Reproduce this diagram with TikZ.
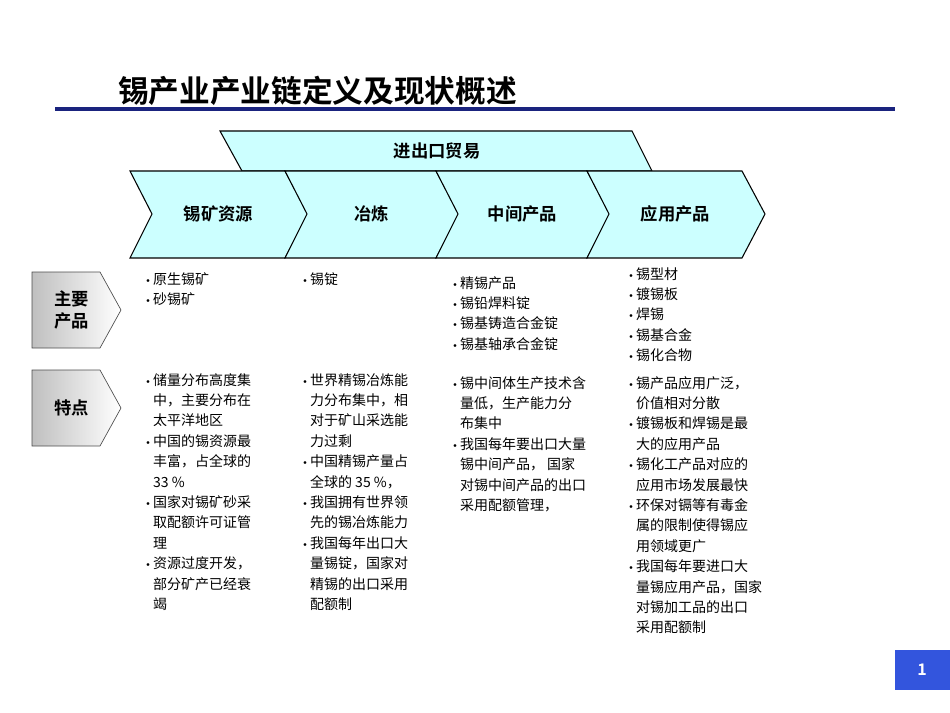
\documentclass[tikz,border=0pt]{standalone}
\usepackage{fontspec}
\setmainfont{Noto Sans CJK SC}
\newfontfamily\hfont{Noto Sans CJK SC Bold}
\newfontfamily\lat{DejaVu Sans}
\usetikzlibrary{shadings}
\definecolor{cy}{HTML}{CCFFFF}
\definecolor{navy}{HTML}{1A237E}
\definecolor{pgblue}{HTML}{3355DD}
\newcommand{\bu}{{\lat\fontsize{7pt}{7pt}\selectfont•}\,}
\newcommand{\hb}{\hphantom{\bu}}
\tikzset{chev/.style={draw=black,fill=cy,line width=0.8pt},
 gbox/.style={draw=black!70,left color=black!25,right color=white,line width=0.5pt},
 body/.style={anchor=north west,align=left,inner sep=0pt,font=\fontsize{10.5pt}{15.3pt}\selectfont},
 head/.style={font=\hfont\fontsize{13pt}{16pt}\selectfont}}
\begin{document}
\begin{tikzpicture}[x=0.75pt,y=-0.75pt]
\useasboundingbox (0,0) rectangle (950,713);
\node[anchor=base west,inner sep=0pt,font=\hfont\fontsize{23pt}{26pt}\selectfont] (title) at (118,103) {锡产业产业链定义及现状概述};
\draw[navy,line width=2.5pt] (55,109) coordinate (l1) -- (895,109) coordinate (l2);
% trade banner
\draw[chev] (220,131) -- (632,131) -- (652,171) -- (242,171) -- cycle;
\node[head] (trade) at (437,151) {进出口贸易};
% chevrons
\foreach \a/\b/\t/\n in {130/285/锡矿资源/c1,285/436/冶炼/c2,436/587/中间产品/c3,587/742/应用产品/c4}{
 \draw[chev] (\a,171) -- (\b,171) -- (\b+23,214) -- (\b,258) -- (\a,258) -- (\a+22,214) -- cycle;
 \node[head] (\n) at ({(\a+\b)/2+11},214) {\t};
}
% left boxes
\draw[gbox] (32,272) -- (100,272) -- (121,310) -- (100,348) -- (32,348) -- cycle;
\node[head,align=center] (zy) at (72,310) {主要\\产品};
\draw[gbox] (32,370) -- (100,370) -- (121,408) -- (100,446) -- (32,446) -- cycle;
\node[head] (td) at (72,408) {特点};
% products
\node[body] (p1) at (145,272) {\bu 原生锡矿\\\bu 砂锡矿};
\node[body] (p2) at (302,272) {\bu 锡锭};
\node[body] (p3) at (452,276) {\bu 精锡产品\\\bu 锡铅焊料锭\\\bu 锡基铸造合金锭\\\bu 锡基轴承合金锭};
\node[body] (p4) at (628,267) {\bu 锡型材\\\bu 镀锡板\\\bu 焊锡\\\bu 锡基合金\\\bu 锡化合物};
% features
\node[body] (f1) at (145,373) {\bu 储量分布高度集\\\hb 中，主要分布在\\\hb 太平洋地区\\\bu 中国的锡资源最\\\hb 丰富，占全球的\\\hb 33 \%\\\bu 国家对锡矿砂采\\\hb 取配额许可证管\\\hb 理\\\bu 资源过度开发，\\\hb 部分矿产已经衰\\\hb 竭};
\node[body] (f2) at (302,373) {\bu 世界精锡冶炼能\\\hb 力分布集中，相\\\hb 对于矿山采选能\\\hb 力过剩\\\bu 中国精锡产量占\\\hb 全球的 35 \%，\\\bu 我国拥有世界领\\\hb 先的锡冶炼能力\\\bu 我国每年出口大\\\hb 量锡锭，国家对\\\hb 精锡的出口采用\\\hb 配额制};
\node[body] (f3) at (452,376) {\bu 锡中间体生产技术含\\\hb 量低，生产能力分\\\hb 布集中\\\bu 我国每年要出口大量\\\hb 锡中间产品，\ 国家\\\hb 对锡中间产品的出口\\\hb 采用配额管理，};
\node[body] (f4) at (628,376) {\bu 锡产品应用广泛，\\\hb 价值相对分散\\\bu 镀锡板和焊锡是最\\\hb 大的应用产品\\\bu 锡化工产品对应的\\\hb 应用市场发展最快\\\bu 环保对镉等有毒金\\\hb 属的限制使得锡应\\\hb 用领域更广\\\bu 我国每年要进口大\\\hb 量锡应用产品，国家\\\hb 对锡加工品的出口\\\hb 采用配额制};
% page number
\fill[pgblue] (895,650) rectangle (950,690);
\node[text=white,font=\hfont\fontsize{12pt}{14pt}\selectfont] (pg) at (922,670) {1};
\end{tikzpicture}
\end{document}
